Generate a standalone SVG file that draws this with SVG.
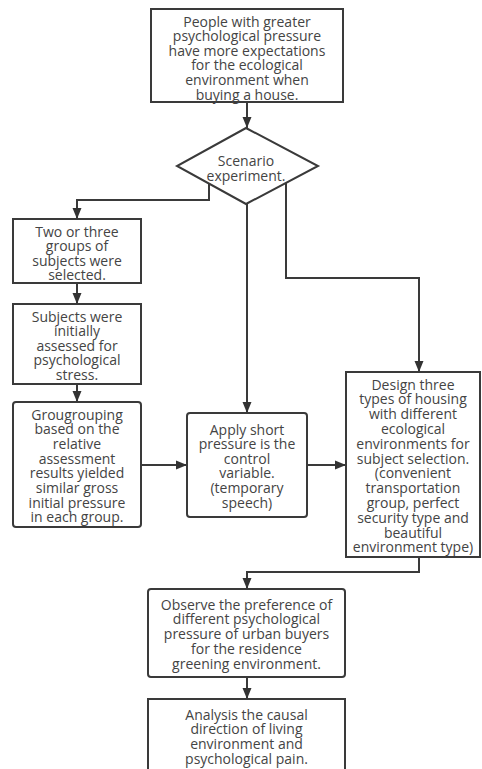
<svg xmlns="http://www.w3.org/2000/svg" width="482" height="769" viewBox="0 0 482 769">
<defs>
<marker id="arr" markerUnits="userSpaceOnUse" markerWidth="12" markerHeight="11" refX="11" refY="5.5" orient="auto">
<path d="M0,1 L11,5.5 L0,10 z" fill="#333"/>
</marker>
<style>
.box{fill:#fff;stroke:#3a3a3a;stroke-width:2}
.t{font-family:"Open Sans","Noto Sans","Liberation Sans",sans-serif;font-size:14px;fill:#444;text-anchor:middle}
.c{fill:none;stroke:#3a3a3a;stroke-width:2;marker-end:url(#arr)}
</style>
</defs>
<rect width="482" height="769" fill="#fff"/>
<g id="connectors">
<path class="c" d="M247,102 V128"/>
<path class="c" d="M209,184 V200 H77 V219"/>
<path class="c" d="M247,204 V413"/>
<path class="c" d="M286,183 V278 H419 V372"/>
<path class="c" d="M77,283 V304"/>
<path class="c" d="M77,384 V402"/>
<path class="c" d="M141,465 H187"/>
<path class="c" d="M307,465 H346"/>
<path class="c" d="M419,557 V572 H247 V589"/>
<path class="c" d="M247,677 V699"/>
</g>
<g id="n1">
<rect class="box" x="151" y="9" width="192" height="93"/>
<text class="t" x="247" y="26.5"><tspan x="247">People with greater</tspan><tspan x="247" dy="14.6">psychological pressure</tspan><tspan x="247" dy="14.6">have more expectations</tspan><tspan x="247" dy="14.6">for the ecological</tspan><tspan x="247" dy="14.6">environment when</tspan><tspan x="247" dy="14.6">buying a house.</tspan></text>
</g>
<g id="n2">
<path class="box" d="M246,128 L318,166 L246,204 L177,166 Z"/>
<text class="t" x="246" y="165.5"><tspan x="246">Scenario</tspan><tspan x="246" dy="15">experiment.</tspan></text>
</g>
<g id="n3">
<rect class="box" x="13" y="219" width="128" height="64"/>
<text class="t" x="77" y="236.5"><tspan x="77">Two or three</tspan><tspan x="77" dy="14.5">groups of</tspan><tspan x="77" dy="14.5">subjects were</tspan><tspan x="77" dy="14.5">selected.</tspan></text>
</g>
<g id="n4">
<rect class="box" x="13" y="304" width="128" height="80"/>
<text class="t" x="77" y="321.5"><tspan x="77">Subjects were</tspan><tspan x="77" dy="14.5">initially</tspan><tspan x="77" dy="14.5">assessed for</tspan><tspan x="77" dy="14.5">psychological</tspan><tspan x="77" dy="14.5">stress.</tspan></text>
</g>
<g id="n5">
<rect class="box" x="13" y="402" width="128" height="125" rx="3"/>
<text class="t" x="77" y="419.5"><tspan x="77">Grougrouping</tspan><tspan x="77" dy="14.7">based on the</tspan><tspan x="77" dy="14.7">relative</tspan><tspan x="77" dy="14.7">assessment</tspan><tspan x="77" dy="14.7">results yielded</tspan><tspan x="77" dy="14.7">similar gross</tspan><tspan x="77" dy="14.7">initial pressure</tspan><tspan x="77" dy="14.7">in each group.</tspan></text>
</g>
<g id="n6">
<rect class="box" x="187" y="413" width="120" height="104" rx="3"/>
<text class="t" x="247" y="434.5"><tspan x="247">Apply short</tspan><tspan x="247" dy="14.6">pressure is the</tspan><tspan x="247" dy="14.6">control</tspan><tspan x="247" dy="14.6">variable.</tspan><tspan x="247" dy="14.6">(temporary</tspan><tspan x="247" dy="14.6">speech)</tspan></text>
</g>
<g id="n7">
<rect class="box" x="346" y="372" width="134" height="185"/>
<text class="t" x="413" y="389.5"><tspan x="413">Design three</tspan><tspan x="413" dy="14.8">types of housing</tspan><tspan x="413" dy="14.8">with different</tspan><tspan x="413" dy="14.8">ecological</tspan><tspan x="413" dy="14.8">environments for</tspan><tspan x="413" dy="14.8">subject selection.</tspan><tspan x="413" dy="14.8">(convenient</tspan><tspan x="413" dy="14.8">transportation</tspan><tspan x="413" dy="14.8">group, perfect</tspan><tspan x="413" dy="14.8">security type and</tspan><tspan x="413" dy="14.8">beautiful</tspan><tspan x="413" dy="14.8">environment type)</tspan></text>
</g>
<g id="n8">
<rect class="box" x="148" y="589" width="197" height="88" rx="3"/>
<text class="t" x="246.5" y="609.5"><tspan x="246.5">Observe the preference of</tspan><tspan x="246.5" dy="14.75">different psychological</tspan><tspan x="246.5" dy="14.75">pressure of urban buyers</tspan><tspan x="246.5" dy="14.75">for the residence</tspan><tspan x="246.5" dy="14.75">greening environment.</tspan></text>
</g>
<g id="n9">
<rect class="box" x="148" y="699" width="197" height="75"/>
<text class="t" x="246.5" y="719.5"><tspan x="246.5">Analysis the causal</tspan><tspan x="246.5" dy="14.7">direction of living</tspan><tspan x="246.5" dy="14.7">environment and</tspan><tspan x="246.5" dy="14.7">psychological pain.</tspan></text>
</g>
</svg>
